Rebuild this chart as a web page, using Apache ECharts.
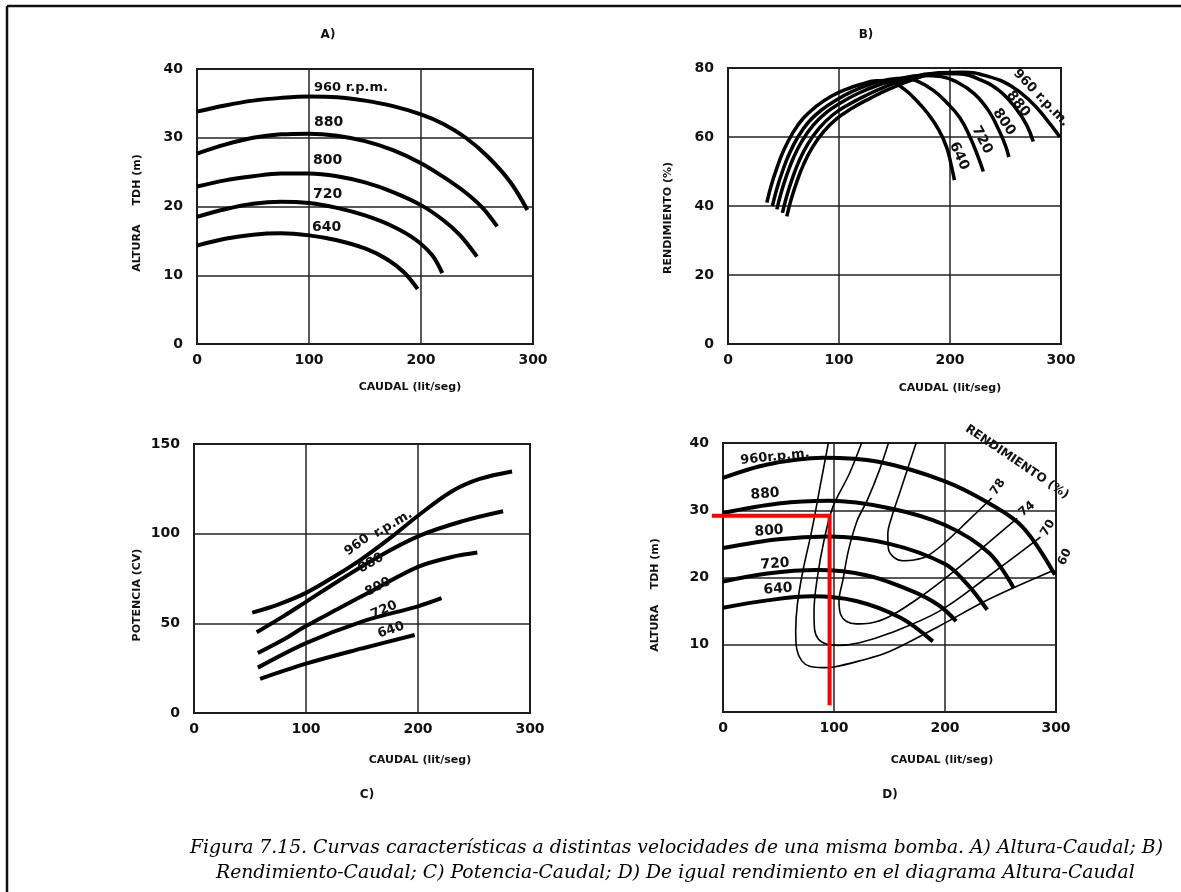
<!DOCTYPE html>
<html>
<head>
<meta charset="utf-8">
<script src="https://cdn.jsdelivr.net/npm/echarts@6.0.0/dist/echarts.min.js"></script>
<style>
  html, body { margin: 0; padding: 0; background: #fff; }
  #chart { width: 1181px; height: 892px; }
</style>
</head>
<body>
<div id="chart"></div>
<script>
// A) Altura - Caudal  [caudal, altura]
const A_960 = [[0,33.8],[25,34.7],[50,35.4],[75,35.8],[100,36],[125,35.9],[150,35.4],[175,34.6],[200,33.4],[220,32],[240,30],[260,27.2],[280,23.5],[295,19.5]];
const A_880 = [[0,27.7],[25,29],[50,30],[75,30.5],[100,30.6],[125,30.3],[150,29.5],[175,28.2],[200,26.3],[220,24.3],[240,22],[255,19.8],[268,17.1]];
const A_800 = [[0,22.9],[25,23.8],[50,24.4],[75,24.8],[100,24.8],[125,24.4],[150,23.5],[175,22.1],[200,20.2],[220,18],[235,15.8],[250,12.7]];
const A_720 = [[0,18.5],[25,19.6],[50,20.4],[75,20.7],[100,20.5],[125,19.8],[150,18.7],[175,17.1],[195,15.2],[210,12.9],[219,10.3]];
const A_640 = [[0,14.3],[25,15.3],[50,15.9],[75,16.1],[100,15.8],[125,15.1],[150,13.9],[170,12.3],[185,10.4],[197,8]];

// B) Rendimiento - Caudal  [caudal, %]
const B_640 = [[35,41],[39,46],[44,51],[50,56],[58,61],[68,65.5],[80,69],[93,71.8],[107,73.9],[120,75.3],[134,76.3],[147,76],[159,73.8],[170,70.5],[180,66.8],[190,62],[197,57],[201,52],[204,47.5]];
const B_720 = [[40,40],[44,45],[49,50],[55,55],[63,60],[73,64.5],[85,68],[98,70.8],[112,73.2],[128,75.3],[145,76.7],[160,77],[172,76],[185,73.5],[197,70],[209,65.5],[218,60],[225,54.5],[230,50]];
const B_800 = [[44,39],[48,44],[53,49],[59,54],[67,59],[77,63.5],[89,67.2],[102,70],[117,72.6],[135,75],[155,76.9],[175,77.8],[192,77.5],[207,75.8],[222,72.5],[235,67.5],[244,62],[250,57.5],[253,54.2]];
const B_880 = [[49,38],[53,43],[58,48],[64,53],[72,58],[82,62.5],[94,66.3],[108,69.3],[124,72],[142,74.6],[162,76.9],[185,78.4],[207,78.3],[228,76.5],[246,73],[260,68],[269,63.5],[275,58.7]];
const B_960 = [[53,37],[57,42],[62,47],[68,52],[76,57],[86,61.5],[98,65.3],[112,68.4],[128,71.2],[146,74],[168,76.8],[190,78.6],[212,78.8],[235,77.5],[255,74.8],[272,70.5],[286,65.5],[299,60]];

// C) Potencia - Caudal  [caudal, CV]
const C_960 = [[52,56],[75,60.5],[100,67],[125,76],[150,86],[175,97.5],[200,110],[230,123.5],[255,130.5],[284,134.7]];
const C_880 = [[56,45],[80,54],[100,62],[130,74],[160,85.5],[200,98.5],[240,107],[276,112.5]];
const C_800 = [[57,33.5],[80,41],[100,48.5],[130,58.5],[160,68.5],[200,81.5],[230,87],[253,89.5]];
const C_720 = [[57,25.3],[100,39],[150,51],[200,59.5],[221,64]];
const C_640 = [[59,19],[100,27.5],[150,36],[197,43.5]];

// D) Altura - Caudal con curvas de igual rendimiento
const D_960 = [[0,34.8],[40,36.8],[90,37.8],[140,37.2],[200,34.3],[240,31],[270,27.5],[299,20.4]];
const D_880 = [[0,29.6],[50,31],[95,31.4],[150,30.3],[200,27.8],[240,23.6],[262,18.4]];
const D_800 = [[0,24.4],[50,25.7],[95,26.1],[150,25],[200,22],[220,19],[238,15.2]];
const D_720 = [[0,19.4],[40,20.6],[85,21.1],[130,20.3],[170,18],[195,15.8],[210,13.5]];
const D_640 = [[0,15.5],[40,16.6],[80,17.2],[120,16.5],[160,14],[189,10.5]];
const D_eff78 = [[175,40.5],[167,36.5],[159,32.5],[152,29],[148.5,26.5],[149,24.3],[154,23],[162,22.5],[172,22.6],[184,23.2],[200,25.2],[220,28.3],[242,31.8]];
const D_eff74 = [[150,40.5],[141,36],[130,31.5],[121,28.5],[113,24],[108,19.6],[104.5,16.5],[106,14.5],[111,13.5],[120,13.1],[132,13.2],[150,14.2],[175,16.8],[198,19.6],[220,22.5],[240,25.3],[265,28.8]];
const D_eff70 = [[126,40.5],[114,35.5],[99,30.5],[91,25.5],[85,20],[82,15],[82.5,12.3],[86,10.8],[93,10.1],[103,9.9],[123,10.3],[150,11.7],[195,15],[240,20.3],[286,26]];
const D_eff60 = [[95.5,40.5],[88,34],[80,27],[72,21],[67,16],[65.5,12],[66.5,9.3],[71,7.6],[78,6.8],[90,6.6],[100,6.7],[123,7.6],[150,9],[195,12.8],[240,16.8],[297,21]];
// punto de trabajo (trazo rojo)
const D_red = [[-10,29.2],[96,29.2],[96,1]];

const chart = echarts.init(document.getElementById('chart'));

const sans = '"DejaVu Sans", sans-serif';
const tickFont = { fontFamily: sans, fontWeight: 'bold', fontSize: 14, color: '#111' };

function grid(left, top, width, height) {
    return { left, top, width, height, show: true, borderColor: '#111', borderWidth: 2, backgroundColor: 'transparent' };
}
function xAx(gi) {
    return {
        type: 'value', gridIndex: gi, min: 0, max: 300, interval: 100,
        axisLine: { show: false }, axisTick: { show: false },
        axisLabel: Object.assign({ margin: 9 }, tickFont),
        splitLine: { lineStyle: { color: '#222', width: 1.5 } }
    };
}
function yAx(gi, max, interval, hideZero) {
    return {
        type: 'value', gridIndex: gi, min: 0, max, interval,
        axisLine: { show: false }, axisTick: { show: false },
        axisLabel: Object.assign({ margin: 14, formatter: v => (hideZero && v === 0) ? '' : v }, tickFont),
        splitLine: { lineStyle: { color: '#222', width: 1.5 } }
    };
}
function curve(data, gi, width, color, smooth) {
    return {
        type: 'line', data, xAxisIndex: gi, yAxisIndex: gi,
        showSymbol: false, smooth: smooth === undefined ? 0.35 : smooth, silent: true,
        lineStyle: { color: color || '#000', width: width || 4 }
    };
}
function txt(text, x, y, size, deg, opts) {
    return {
        type: 'text', x, y, rotation: (deg || 0) * Math.PI / 180, z: 100,
        style: Object.assign({
            text, fill: '#111', align: 'center', verticalAlign: 'middle',
            font: 'bold ' + size + 'px ' + sans
        }, opts || {})
    };
}

const capFont = 'italic 18.8px "DejaVu Serif", serif';

const option = {
    animation: false,
    backgroundColor: '#fff',
    grid: [
        grid(197, 69, 336, 275),
        grid(728, 68, 333, 276),
        grid(194, 444, 336, 269),
        grid(723, 443, 333, 269)
    ],
    xAxis: [xAx(0), xAx(1), xAx(2), xAx(3)],
    yAxis: [yAx(0, 40, 10), yAx(1, 80, 20), yAx(2, 150, 50), yAx(3, 40, 10, true)],
    series: [
        curve(A_960, 0), curve(A_880, 0), curve(A_800, 0), curve(A_720, 0), curve(A_640, 0),
        curve(B_640, 1, 3.5, null, 0.45), curve(B_720, 1, 3.5, null, 0.45), curve(B_800, 1, 3.5, null, 0.45),
        curve(B_880, 1, 3.5, null, 0.45), curve(B_960, 1, 3.5, null, 0.45),
        curve(C_960, 2), curve(C_880, 2), curve(C_800, 2), curve(C_720, 2), curve(C_640, 2),
        curve(D_eff78, 3, 1.6), curve(D_eff74, 3, 1.6), curve(D_eff70, 3, 1.6), curve(D_eff60, 3, 1.6),
        curve(D_960, 3), curve(D_880, 3), curve(D_800, 3), curve(D_720, 3), curve(D_640, 3)
    ],
    graphic: [
        // marco
        { type: 'line', shape: { x1: 7, y1: 6, x2: 1181, y2: 6 }, style: { stroke: '#111', lineWidth: 2.5 } },
        { type: 'line', shape: { x1: 7, y1: 6, x2: 7, y2: 892 }, style: { stroke: '#111', lineWidth: 2.5 } },

        // títulos de paneles
        txt('A)', 328, 35, 12), txt('B)', 866, 35, 12), txt('C)', 367, 795, 12), txt('D)', 890, 795, 12),

        // nombres de ejes
        txt('CAUDAL (lit/seg)', 410, 387, 11),
        txt('ALTURA     TDH (m)', 137, 213, 11, 90),
        txt('CAUDAL (lit/seg)', 950, 388, 11),
        txt('RENDIMIENTO (%)', 668, 218, 11, 90),
        txt('CAUDAL (lit/seg)', 420, 760, 11),
        txt('POTENCIA (CV)', 137, 595, 11, 90),
        txt('CAUDAL (lit/seg)', 942, 760, 11),
        txt('ALTURA    TDH (m)', 655, 595, 11, 90),

        // A) etiquetas rpm
        txt('960 r.p.m.', 314, 88, 13, 0, { align: 'left' }),
        txt('880', 314, 122, 14, 0, { align: 'left' }),
        txt('800', 313, 160, 14, 0, { align: 'left' }),
        txt('720', 313, 194, 14, 0, { align: 'left' }),
        txt('640', 312, 227, 14, 0, { align: 'left' }),

        // B) etiquetas rpm
        txt('960 r.p.m.', 1041, 98, 13, -46),
        txt('880', 1018, 104, 14, -52),
        txt('800', 1004, 122, 14, -56),
        txt('720', 982, 140, 14, -62),
        txt('640', 959, 156, 14, -66),

        // C) etiquetas rpm
        txt('960', 357, 545, 13, 36),
        txt('r.p.m.', 393, 524, 13, 30),
        txt('880', 371, 563, 13, 30),
        txt('800', 378, 587, 13, 27),
        txt('720', 384, 610, 13, 23),
        txt('640', 391, 630, 13, 19),

        // D) etiquetas rpm y rendimiento
        txt('960r.p.m.', 775, 457, 13, 6),
        txt('880', 765, 494, 14, 4),
        txt('800', 769, 531, 14, 4),
        txt('720', 775, 564, 14, 4),
        txt('640', 778, 589, 14, 4),
        txt('RENDIMIENTO (%)', 1017, 462, 12, -34),
        txt('78', 998, 487, 12, 55),
        txt('74', 1027, 509, 12, 40),
        txt('70', 1048, 528, 12, 60),
        txt('60', 1065, 557, 12, 65),

        // pie de figura
        { type: 'text', x: 190, y: 848, z: 100, style: { text: 'Figura 7.15. Curvas características a distintas velocidades de una misma bomba. A) Altura-Caudal; B)', fill: '#000', align: 'left', verticalAlign: 'middle', font: capFont } },
        { type: 'text', x: 216, y: 873, z: 100, style: { text: 'Rendimiento-Caudal; C) Potencia-Caudal; D) De igual rendimiento en el diagrama Altura-Caudal', fill: '#000', align: 'left', verticalAlign: 'middle', font: capFont } }
    ]
};

chart.setOption(option);

// el trazo rojo sale del área del gráfico: se pasa por la escala del eje D
const redPts = D_red.map(p => chart.convertToPixel({ gridIndex: 3 }, p));
chart.setOption({
    graphic: option.graphic.concat([{
        type: 'polyline', z: 90, shape: { points: redPts },
        style: { stroke: '#ff0000', lineWidth: 4, fill: null }
    }])
});
</script>
</body>
</html>
